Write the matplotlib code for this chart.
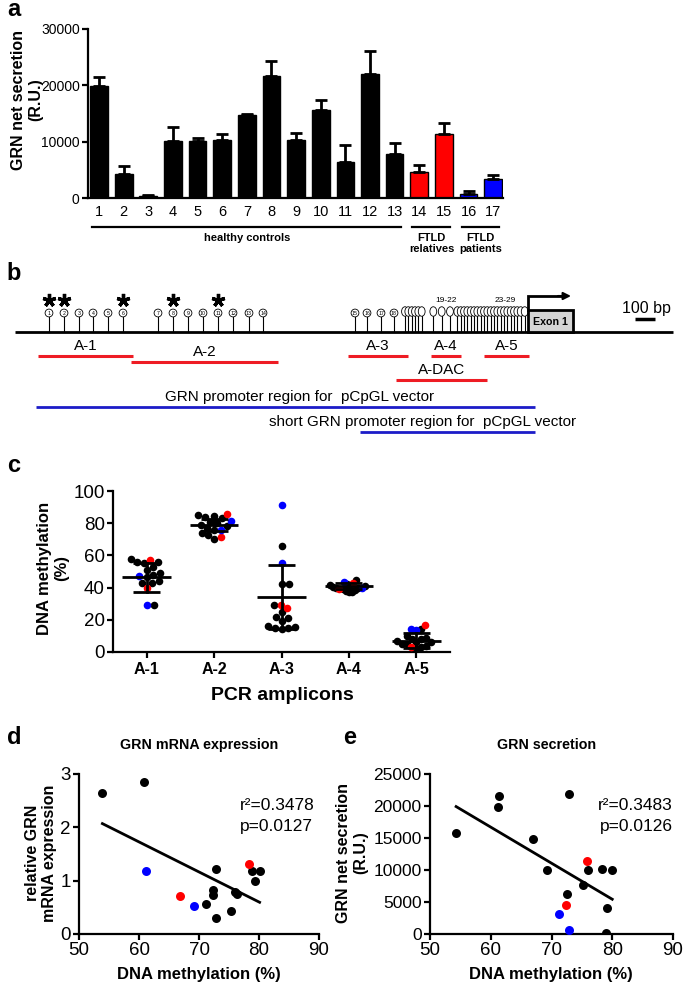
import numpy as np
import matplotlib
matplotlib.use('Agg')
import matplotlib.pyplot as plt
from matplotlib.patches import Circle, Ellipse, Rectangle
from matplotlib.transforms import blended_transform_factory

plt.rcParams['font.family'] = ['Liberation Sans', 'DejaVu Sans']

# ---------------- data ----------------
# panel a
sample_ids = list(range(1, 18))
secretion_mean = [19800, 4300, 300, 10100, 10050, 10250, 14800, 21600, 10350,
                  15700, 6350, 22000, 7800, 4600, 11300, 700, 3300]
secretion_top = [21500, 5600, 500, 12600, 10600, 11400, 14950, 24400, 11600,
                 17400, 9400, 26100, 9800, 5800, 13400, 1200, 4100]
sample_group = ['healthy'] * 13 + ['relative'] * 2 + ['patient'] * 2
group_labels = ['healthy controls', 'FTLD\nrelatives', 'FTLD\npatients']
group_first = [1, 14, 16]
group_last = [13, 15, 17]
a_yticks = [0, 10000, 20000, 30000]

# panel b (schematic, positions along the promoter)
cpg_numbered = [49, 64, 79, 93, 108, 123, 158, 173, 188, 203, 218, 233, 249, 263,
                355, 367, 381, 394]
cpg_cluster = [405, 408.3, 411.7, 415, 418.3, 421.7, 433.3, 441.7, 450, 457.3, 460.7,
               464, 467.3, 470.7, 474, 477.3, 480.7, 484, 487.3, 490.7, 494, 497.3,
               500.7, 504, 507.3, 510.7, 514, 517.3, 520.7, 524.7]
cpg_starred = [1, 2, 6, 8, 11]
amp_names = ['A-1', 'A-2', 'A-3', 'A-4', 'A-5', 'A-DAC']
amp_start = [38, 131, 348, 431, 484, 396]
amp_end = [133, 278, 408, 461, 529, 487]
amp_row = [0, 1, 0, 0, 0, 2]
vector_names = ['GRN promoter region for  pCpGL vector',
                'short GRN promoter region for  pCpGL vector']
vector_start = [36, 360]
vector_end = [535, 535]
exon_start, exon_end = 528, 573
seq_start, seq_end = 15, 673

# panel c
amplicons = ['A-1', 'A-2', 'A-3', 'A-4', 'A-5']
meth_healthy = [
    [58, 53, 56, 56, 55, 51, 48, 49, 46.5, 43, 44, 43, 29.5],
    [85, 84.5, 84, 83, 81, 80, 79, 78, 77, 76, 74, 72.5, 70],
    [66, 42, 42, 29.5, 25, 22, 21, 19, 16, 15.5, 15, 15, 14.5],
    [45, 42, 41.5, 41, 40.5, 40, 39.5, 39, 38.5, 38, 37.5, 37, 41],
    [14, 10, 9, 8, 8, 7, 6.5, 6, 5, 5, 4, 3, 2],
]
meth_relative = [[57, 40], [86, 71.5], [27.5, 29.5], [43, 39], [17, 3]]
meth_patient = [[47, 29], [81.5, 76], [91, 55.5], [43.5, 40], [13.5, 14.5]]
meth_mean = [46.5, 79, 34, 41, 7]
meth_sd = [9.0, 3.8, 20, 1.6, 4.5]

# panel d
d_x_h = [53.9, 60.9, 71.1, 72.4, 72.3, 72.8, 72.9, 75.3, 76.0, 76.3, 79.4, 78.9, 80.1]
d_y_h = [2.64, 2.85, 0.56, 0.82, 0.73, 1.22, 0.30, 0.44, 0.78, 0.75, 1.00, 1.19, 1.19]
d_x_r = [66.9, 78.4]
d_y_r = [0.71, 1.31]
d_x_p = [61.2, 69.2]
d_y_p = [1.19, 0.52]

# panel e
e_x_h = [54.3, 61.2, 61.4, 67.0, 69.3, 72.5, 72.8, 75.2, 76.0, 78.3, 80.0, 79.1, 78.9]
e_y_h = [15740, 19780, 21620, 14800, 10070, 6300, 21880, 7710, 10020, 10180, 10070, 4140, 150]
e_x_r = [72.4, 75.9]
e_y_r = [4460, 11390]
e_x_p = [71.2, 72.9]
e_y_p = [3150, 630]

COL = {'healthy': '#000000', 'relative': '#ff0000', 'patient': '#0000ff'}
RED_LINE = '#ee1c24'
BLUE_LINE = '#1c1cc8'

# ---------------- figure ----------------
W, H = 685, 990
fig = plt.figure(figsize=(W / 100, H / 100), dpi=100)


def add_ax(l, t, r, b):
    return fig.add_axes([l / W, 1 - b / H, (r - l) / W, (b - t) / H])


def ftext(x, y, s, **kw):
    fig.text(x / W, 1 - y / H, s, **kw)


def style(ax, lw=1.6):
    for s in ['top', 'right']:
        ax.spines[s].set_visible(False)
    for s in ['left', 'bottom']:
        ax.spines[s].set_linewidth(lw)


# ---------- panel a ----------
axa = add_ax(88, 29, 503, 198)
style(axa)
xa = np.array(sample_ids)
vals = np.array(secretion_mean)
err = np.array(secretion_top) - vals
axa.bar(xa, vals, width=0.72, color=[COL[g] for g in sample_group], edgecolor='k', linewidth=1.0)
axa.errorbar(xa, vals, yerr=[np.zeros_like(err), err], fmt='none', ecolor='k',
             elinewidth=2, capsize=4.5, capthick=2)
axa.set_ylim(0, 30000)
axa.set_yticks(a_yticks)
axa.set_xlim(0.55, 17.4)
axa.set_xticks(xa)
axa.tick_params(axis='y', length=4, width=1.6, labelsize=10, pad=2)
axa.tick_params(axis='x', length=0, labelsize=10.5, pad=5)
tr = blended_transform_factory(axa.transData, axa.transAxes)
for lab, g0, g1 in zip(group_labels, group_first, group_last):
    axa.plot([g0 - 0.28, g1 + 0.24], [-0.172, -0.172], transform=tr, clip_on=False, color='k', lw=1.6)
    axa.text((g0 + g1) / 2, -0.21, lab, transform=tr, ha='center', va='top', fontsize=8,
             fontweight='bold', linespacing=1.1)
ftext(27, 100, 'GRN net secretion\n(R.U.)', rotation=90, ha='center', va='center',
      fontsize=11.5, fontweight='bold', multialignment='center', linespacing=1.15)
ftext(14, 10, 'a', fontsize=17, fontweight='bold', ha='center', va='center')

# ---------- panel b ----------
axb = fig.add_axes([0, 1 - 445 / H, 1, 165 / H])
axb.set_xlim(0, W)
axb.set_ylim(445, 280)
axb.axis('off')
base_y = 332
axb.plot([seq_start, seq_end], [base_y, base_y], color='k', lw=2.0, solid_capstyle='butt', zorder=1)
for i, px in enumerate(cpg_numbered):
    axb.plot([px, px], [316.8, base_y], color='k', lw=0.8, zorder=2)
    axb.add_patch(Circle((px, 313), 3.9, facecolor='white', edgecolor='k', lw=0.6, zorder=3))
    axb.text(px, 313.2, str(i + 1), fontsize=3.8, ha='center', va='center', zorder=4)
for px in cpg_cluster:
    axb.plot([px, px], [316, base_y], color='k', lw=0.8, zorder=2)
for px in cpg_cluster:
    axb.add_patch(Ellipse((px, 311.5), 6.8, 9.5, facecolor='white', edgecolor='k', lw=0.6, zorder=3))
star_x = [cpg_numbered[n - 1] for n in cpg_starred]
axb.plot(star_x, [299.5] * len(star_x), linestyle='none', marker=(5, 2, 0), markersize=9.5,
         markeredgewidth=2.4, color='k')
axb.text(446, 301, '19-22', fontsize=6, ha='center', va='center')
axb.text(505, 301, '23-29', fontsize=6, ha='center', va='center')
axb.add_patch(Rectangle((exon_start, 310), exon_end - exon_start, base_y - 310,
                        facecolor='#d4d4d4', edgecolor='k', lw=2.0, zorder=5))
axb.text((exon_start + exon_end) / 2, 322, 'Exon 1', fontsize=7.7, fontweight='bold',
         ha='center', va='center', zorder=6)
axb.plot([exon_start, exon_start, 562], [310, 296, 296], color='k', lw=2.0, zorder=6,
         solid_joinstyle='miter')
axb.annotate('', xy=(571, 296), xytext=(558, 296),
             arrowprops=dict(arrowstyle='-|>', lw=1.5, color='k', mutation_scale=11,
                             shrinkA=0, shrinkB=0))
axb.text(646, 308, '100 bp', fontsize=11.5, ha='center', va='center')
axb.plot([635, 655], [319, 319], color='k', lw=2.5, solid_capstyle='butt')
row_y = [356, 362, 380]
for nm, s0, s1, r in zip(amp_names, amp_start, amp_end, amp_row):
    y = row_y[r]
    axb.plot([s0, s1], [y, y], color=RED_LINE, lw=2.2, solid_capstyle='butt')
    axb.text((s0 + s1) / 2, y - 10, nm, fontsize=11, ha='center', va='center')
vec_y = [407, 432]
vec_text_x = [300, 423]
for nm, s0, s1, y, tx in zip(vector_names, vector_start, vector_end, vec_y, vec_text_x):
    axb.plot([s0, s1], [y, y], color=BLUE_LINE, lw=2.0, solid_capstyle='butt')
    axb.text(tx, y - 10, nm, fontsize=11, ha='center', va='center')
ftext(14, 274, 'b', fontsize=17, fontweight='bold', ha='center', va='center')

# ---------- panel c ----------
c_l, c_t, c_r, c_b = 113, 491, 450, 652
axc = add_ax(c_l, c_t, c_r, c_b)
style(axc)
axc.set_xlim(0.5, 5.5)
axc.set_ylim(0, 100)
px_per_x = (c_r - c_l) / 5.0
px_per_y = (c_b - c_t) / 100.0


def swarm_offsets(values, d_px=7.0, max_px=19.0):
    values = np.asarray(values, float)
    order = np.argsort(values)
    px_x, px_y = [], []
    offs = np.zeros(len(values))
    for i in order:
        y = values[i] * px_per_y
        cands = [0.0]
        for xj, yj in zip(px_x, px_y):
            dy = y - yj
            if abs(dy) < d_px:
                dx = np.sqrt(d_px ** 2 - dy ** 2)
                cands += [xj + dx, xj - dx]
        cands.sort(key=abs)
        chosen = cands[-1]
        for c in cands:
            if all((c - xj) ** 2 + (y - yj) ** 2 >= d_px ** 2 - 1e-6 for xj, yj in zip(px_x, px_y)):
                chosen = c
                break
        px_x.append(chosen)
        px_y.append(y)
        offs[i] = chosen
    m = np.max(np.abs(offs))
    if m > max_px:
        offs *= max_px / m
    return offs / px_per_x


for k in range(5):
    allv = meth_healthy[k] + meth_relative[k] + meth_patient[k]
    grp = (['healthy'] * len(meth_healthy[k]) + ['relative'] * len(meth_relative[k])
           + ['patient'] * len(meth_patient[k]))
    offs = swarm_offsets(allv)
    xs = (k + 1) + offs
    allv = np.array(allv)
    grp = np.array(grp)
    for g in ['healthy', 'relative', 'patient']:
        msk = grp == g
        axc.scatter(xs[msk], allv[msk], s=30, color=COL[g], linewidths=0, zorder=3)
    m, sd = meth_mean[k], meth_sd[k]
    axc.plot([k + 1 - 0.36, k + 1 + 0.36], [m, m], color='k', lw=2, zorder=4, solid_capstyle='butt')
    axc.plot([k + 1, k + 1], [m - sd, m + sd], color='k', lw=2, zorder=4)
    for yy in (m - sd, m + sd):
        axc.plot([k + 1 - 0.2, k + 1 + 0.2], [yy, yy], color='k', lw=2, zorder=4, solid_capstyle='butt')
axc.set_yticks([0, 20, 40, 60, 80, 100])
axc.set_xticks(range(1, 6))
axc.set_xticklabels(amplicons, fontweight='bold')
axc.tick_params(axis='y', length=4, width=1.6, labelsize=13.5, pad=2)
axc.tick_params(axis='x', length=4, width=1.6, labelsize=11.5, pad=3)
ftext(282, 696, 'PCR amplicons', fontsize=14, fontweight='bold', ha='center', va='center')
ftext(53, 568, 'DNA methylation\n(%)', rotation=90, ha='center', va='center', fontsize=12,
      fontweight='bold', multialignment='center', linespacing=1.15)
ftext(14, 466, 'c', fontsize=17, fontweight='bold', ha='center', va='center')


# ---------- panels d, e ----------
def scatter_panel(ax, xh, yh, xr, yr, xp, yp):
    style(ax)
    for xx, yy, g in [(xh, yh, 'healthy'), (xr, yr, 'relative'), (xp, yp, 'patient')]:
        ax.scatter(xx, yy, s=42, color=COL[g], linewidths=0, zorder=3)
    allx = np.array(xh + xr + xp)
    ally = np.array(yh + yr + yp)
    slope, icpt = np.polyfit(allx, ally, 1)
    xl = np.array([allx.min(), allx.max()])
    ax.plot(xl, slope * xl + icpt, color='k', lw=2, zorder=4)
    ax.set_xlim(50, 90)
    ax.set_xticks([50, 60, 70, 80, 90])
    ax.tick_params(axis='both', length=4, width=1.6, labelsize=13.5, pad=2)


axd = add_ax(79, 774, 319, 934)
scatter_panel(axd, d_x_h, d_y_h, d_x_r, d_y_r, d_x_p, d_y_p)
axd.set_ylim(0, 3)
axd.set_yticks([0, 1, 2, 3])
ftext(240, 805, 'r²=0.3478', fontsize=12.5, ha='left', va='center')
ftext(240, 826, 'p=0.0127', fontsize=12.5, ha='left', va='center')
ftext(199, 745, 'GRN mRNA expression', fontsize=10.3, fontweight='bold', ha='center', va='center')
ftext(199, 974, 'DNA methylation (%)', fontsize=12, fontweight='bold', ha='center', va='center')
ftext(41, 853, 'relative GRN\nmRNA expression', rotation=90, ha='center', va='center', fontsize=11.5,
      fontweight='bold', multialignment='center', linespacing=1.15)
ftext(14, 737, 'd', fontsize=17, fontweight='bold', ha='center', va='center')

axe = add_ax(430, 774, 673, 934)
scatter_panel(axe, e_x_h, e_y_h, e_x_r, e_y_r, e_x_p, e_y_p)
axe.set_ylim(0, 25000)
axe.set_yticks([0, 5000, 10000, 15000, 20000, 25000])
axe.tick_params(axis='y', labelsize=12.5)
ftext(673, 805, 'r²=0.3483', fontsize=12.5, ha='right', va='center')
ftext(673, 826, 'p=0.0126', fontsize=12.5, ha='right', va='center')
ftext(547, 745, 'GRN secretion', fontsize=10.3, fontweight='bold', ha='center', va='center')
ftext(551, 974, 'DNA methylation (%)', fontsize=12, fontweight='bold', ha='center', va='center')
ftext(352, 853, 'GRN net secretion\n(R.U.)', rotation=90, ha='center', va='center', fontsize=11.5,
      fontweight='bold', multialignment='center', linespacing=1.15)
ftext(350, 737, 'e', fontsize=17, fontweight='bold', ha='center', va='center')

fig.savefig('out.png', dpi=100)
